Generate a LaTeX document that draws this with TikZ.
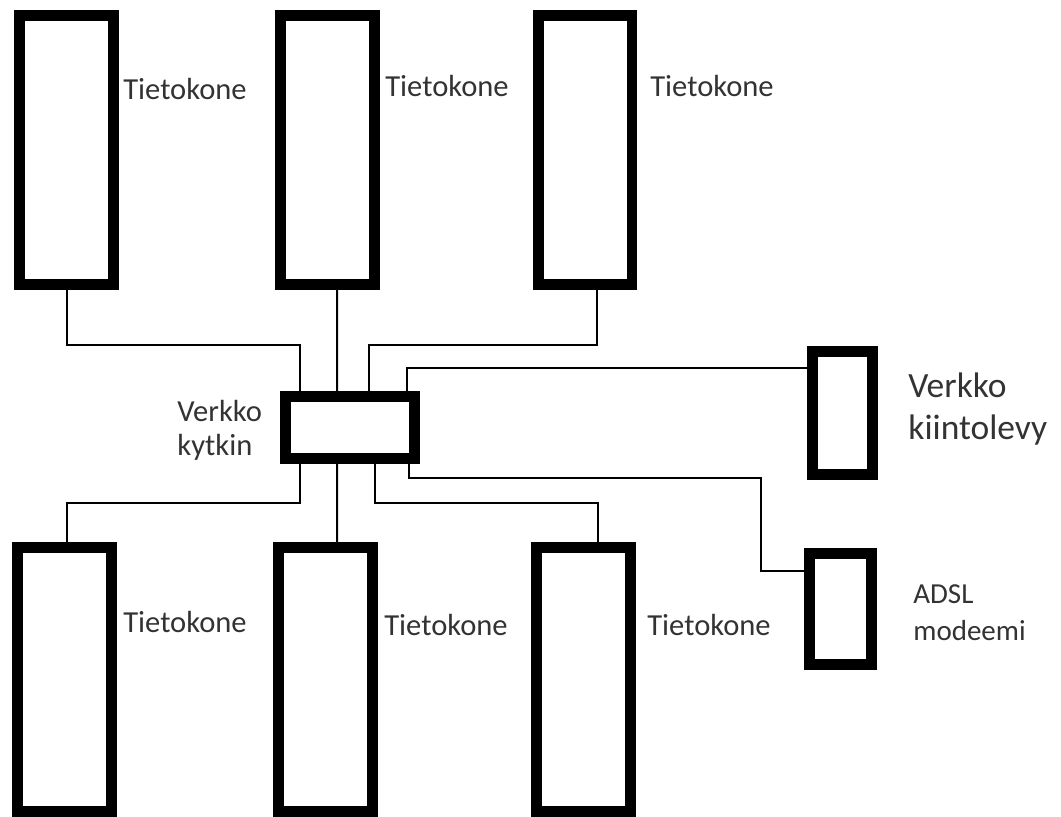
\documentclass[tikz,border=0pt]{standalone}
\usepackage{fontspec}
\setmainfont{Carlito}
\usepackage{tikz}
\usepackage{xcolor}
\usetikzlibrary{positioning, calc}
\definecolor{InkA}{HTML}{000000}
\definecolor{TextA}{HTML}{333333}
\tikzset{
  dev/.style={draw=InkA, fill=white, line width=0.22cm, inner sep=0pt},
  pc/.style={dev, minimum width=1.88cm, minimum height=5.38cm},
  pcb/.style={dev, minimum width=1.88cm, minimum height=5.28cm},
  wire/.style={draw=InkA, line width=0.04cm},
  lbl/.style={text=TextA, inner sep=0pt, anchor=base west, align=left,
              font=\fontsize{17.4}{18.8}\selectfont},
}

\begin{document}
\begin{tikzpicture}[x=0.02cm, y=-0.02cm]
  \useasboundingbox (0,0) rectangle (1061,817);

  % ---- devices ----
  \node[pc] (pc1) at (66.5,150)  {};
  \node[pc] (pc2) at (327.5,150) {};
  \node[pc] (pc3) at (585,150)   {};
  \node[pcb] (pc4) at (64.5,679.5)  {};
  \node[pcb] (pc5) at (325.5,679.5) {};
  \node[pcb] (pc6) at (583.5,679.5) {};
  \node[dev, minimum width=2.58cm, minimum height=1.24cm] (sw) at (350,427.5) {};
  \node[dev, minimum width=1.2cm, minimum height=2.46cm] (disk) at (842.5,413) {};
  \node[dev, minimum width=1.24cm, minimum height=2.22cm] (modem) at (840.5,609) {};

  % ---- connectors ----
  \draw[wire] (pc1.south) -- ++(0,55) -| ([xshift=-1cm]sw.north);
  \draw[wire] ([xshift=0.19cm]pc2.south) -- ([xshift=-0.26cm]sw.north);
  \draw[wire] ([xshift=0.24cm]pc3.south) -- ++(0,55) -| ([xshift=0.38cm]sw.north);
  \draw[wire] ([xshift=1.14cm]sw.north) |- ([yshift=0.9cm]disk.west);
  \draw[wire] ([xshift=-1cm]sw.south) -- ++(0,39) -| ([xshift=0.05cm]pc4.north);
  \draw[wire] ([xshift=-0.26cm]sw.south) -- ([xshift=0.23cm]pc5.north);
  \draw[wire] ([xshift=0.5cm]sw.south) -- ++(0,39) -| ([xshift=0.29cm]pc6.north);
  \draw[wire] ([xshift=1.18cm]sw.south) -- ++(0,14) -- ++(352,0)
       |- ([yshift=0.76cm]modem.west);

  % ---- labels ----
  \node[lbl] (t1) at (123,100) {Tietokone};
  \node[lbl] (t2) at (385,97)  {Tietokone};
  \node[lbl] (t3) at (650,97)  {Tietokone};
  \node[lbl] (t4) at (123,632) {Tietokone};
  \node[lbl] (t5) at (384,635) {Tietokone};
  \node[lbl] (t6) at (647,635) {Tietokone};
  \node[lbl] (tsw) at (177,455) {Verkko\\kytkin};
  \node[lbl, font=\fontsize{20.2}{23.5}\selectfont] (tdisk) at (908,439) {Verkko\\kiintolevy};
  \node[lbl, font=\fontsize{16.5}{20.5}\selectfont] (tmodem) at (913,640) {ADSL\\modeemi};
\end{tikzpicture}
\end{document}
